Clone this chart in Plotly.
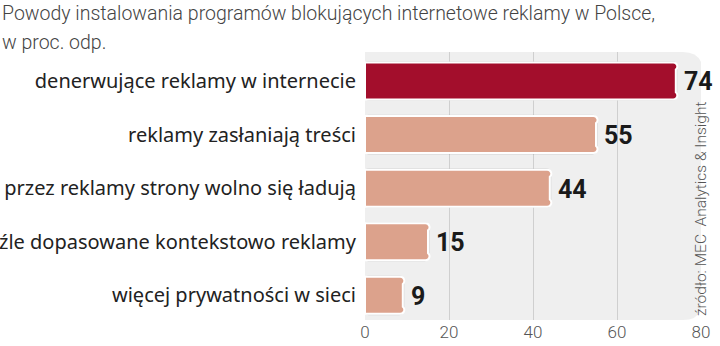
import plotly.graph_objects as go

# Reasons for installing ad-blocking software in Poland (% of respondents)
categories = [
    "denerwujące reklamy w internecie",
    "reklamy zasłaniają treści",
    "przez reklamy strony wolno się ładują",
    "źle dopasowane kontekstowo reklamy",
    "więcej prywatności w sieci",
]
values = [74, 55, 44, 15, 9]
bar_colors = ["#A30E2C", "#DCA28C", "#DCA28C", "#DCA28C", "#DCA28C"]
x_ticks = [0, 20, 40, 60, 80]

title_lines = ["Powody instalowania programów blokujących internetowe reklamy w Polsce,",
               "w proc. odp."]
source_text = "źródło: MEC  Analytics & Insight"

W, H = 720, 346
ML, MR, MT, MB = 365, 19, 52, 26
PW, PH = W - ML - MR, H - MT - MB
XMAX = 80
Y_TOP, Y_BOT = -0.54, 4.46

pos = list(range(len(categories)))

fig = go.Figure()

# soft shadow behind each bar
fig.add_trace(go.Bar(
    y=pos, x=[v + 0.7 for v in values], base=-0.35, orientation="h",
    width=0.74, marker=dict(color="rgba(0,0,0,0.12)", cornerradius=5, line=dict(width=0)),
    hoverinfo="skip", showlegend=False,
))
fig.add_trace(go.Bar(
    y=pos, x=values, orientation="h", width=0.69,
    marker=dict(color=bar_colors, cornerradius=4, line=dict(color="white", width=2)),
    showlegend=False,
))

for p, v in zip(pos, values):
    fig.add_annotation(
        x=v, y=p, xref="x", yref="y", text=str(v), showarrow=False,
        xanchor="left", xshift=6, yshift=-1,
        font=dict(family="Roboto", size=25, color="#1a1a1a", weight="bold"),
    )

# rounded light-grey panel behind the bars
xr = 20 / (PW / XMAX)
yr = 20 / (PH / (Y_BOT - Y_TOP))
x0, x1 = -0.7, 80.4
panel = (f"M {x0},{Y_TOP} L {x1 - xr},{Y_TOP} Q {x1},{Y_TOP} {x1},{Y_TOP + yr} "
         f"L {x1},{Y_BOT - yr} Q {x1},{Y_BOT} {x1 - xr},{Y_BOT} L {x0},{Y_BOT} Z")
fig.add_shape(type="path", path=panel, xref="x", yref="y", layer="below",
              fillcolor="#EFEFEF", line=dict(width=0))

# two-line heading at the top-left corner
for i, line in enumerate(title_lines):
    fig.add_annotation(
        x=-ML / PW, y=1 + (MT - 14 - 28 * i) / PH, xref="paper", yref="paper",
        xanchor="left", yanchor="middle", text=line, showarrow=False,
        font=dict(family="Roboto", size=19.5, color="#444444", weight=300),
    )

fig.add_annotation(
    x=(712 - ML) / PW, y=(H - MB - 209) / PH,
    xref="paper", yref="paper", text=source_text, textangle=-90, showarrow=False,
    font=dict(family="Roboto", size=15.5, color="#555555", weight=300),
)

fig.update_layout(
    width=W, height=H, barmode="overlay",
    margin=dict(l=ML, r=MR, t=MT, b=MB, autoexpand=False),
    paper_bgcolor="white", plot_bgcolor="rgba(0,0,0,0)",
    xaxis=dict(range=[0, XMAX], tickvals=x_ticks, showgrid=True, gridcolor="#CFCFCF",
               gridwidth=1, zeroline=False, showline=False, ticks="", automargin=False,
               tickfont=dict(family="Roboto", size=17, color="#555555", weight=300),
               fixedrange=True),
    yaxis=dict(range=[Y_BOT, Y_TOP], tickvals=pos, ticktext=categories, showgrid=False,
               zeroline=False, showline=False, ticks="", ticklabelstandoff=8,
               automargin=False,
               tickfont=dict(family="Noto Sans", size=20, color="#222222")),
)

fig.write_html("out.html")
